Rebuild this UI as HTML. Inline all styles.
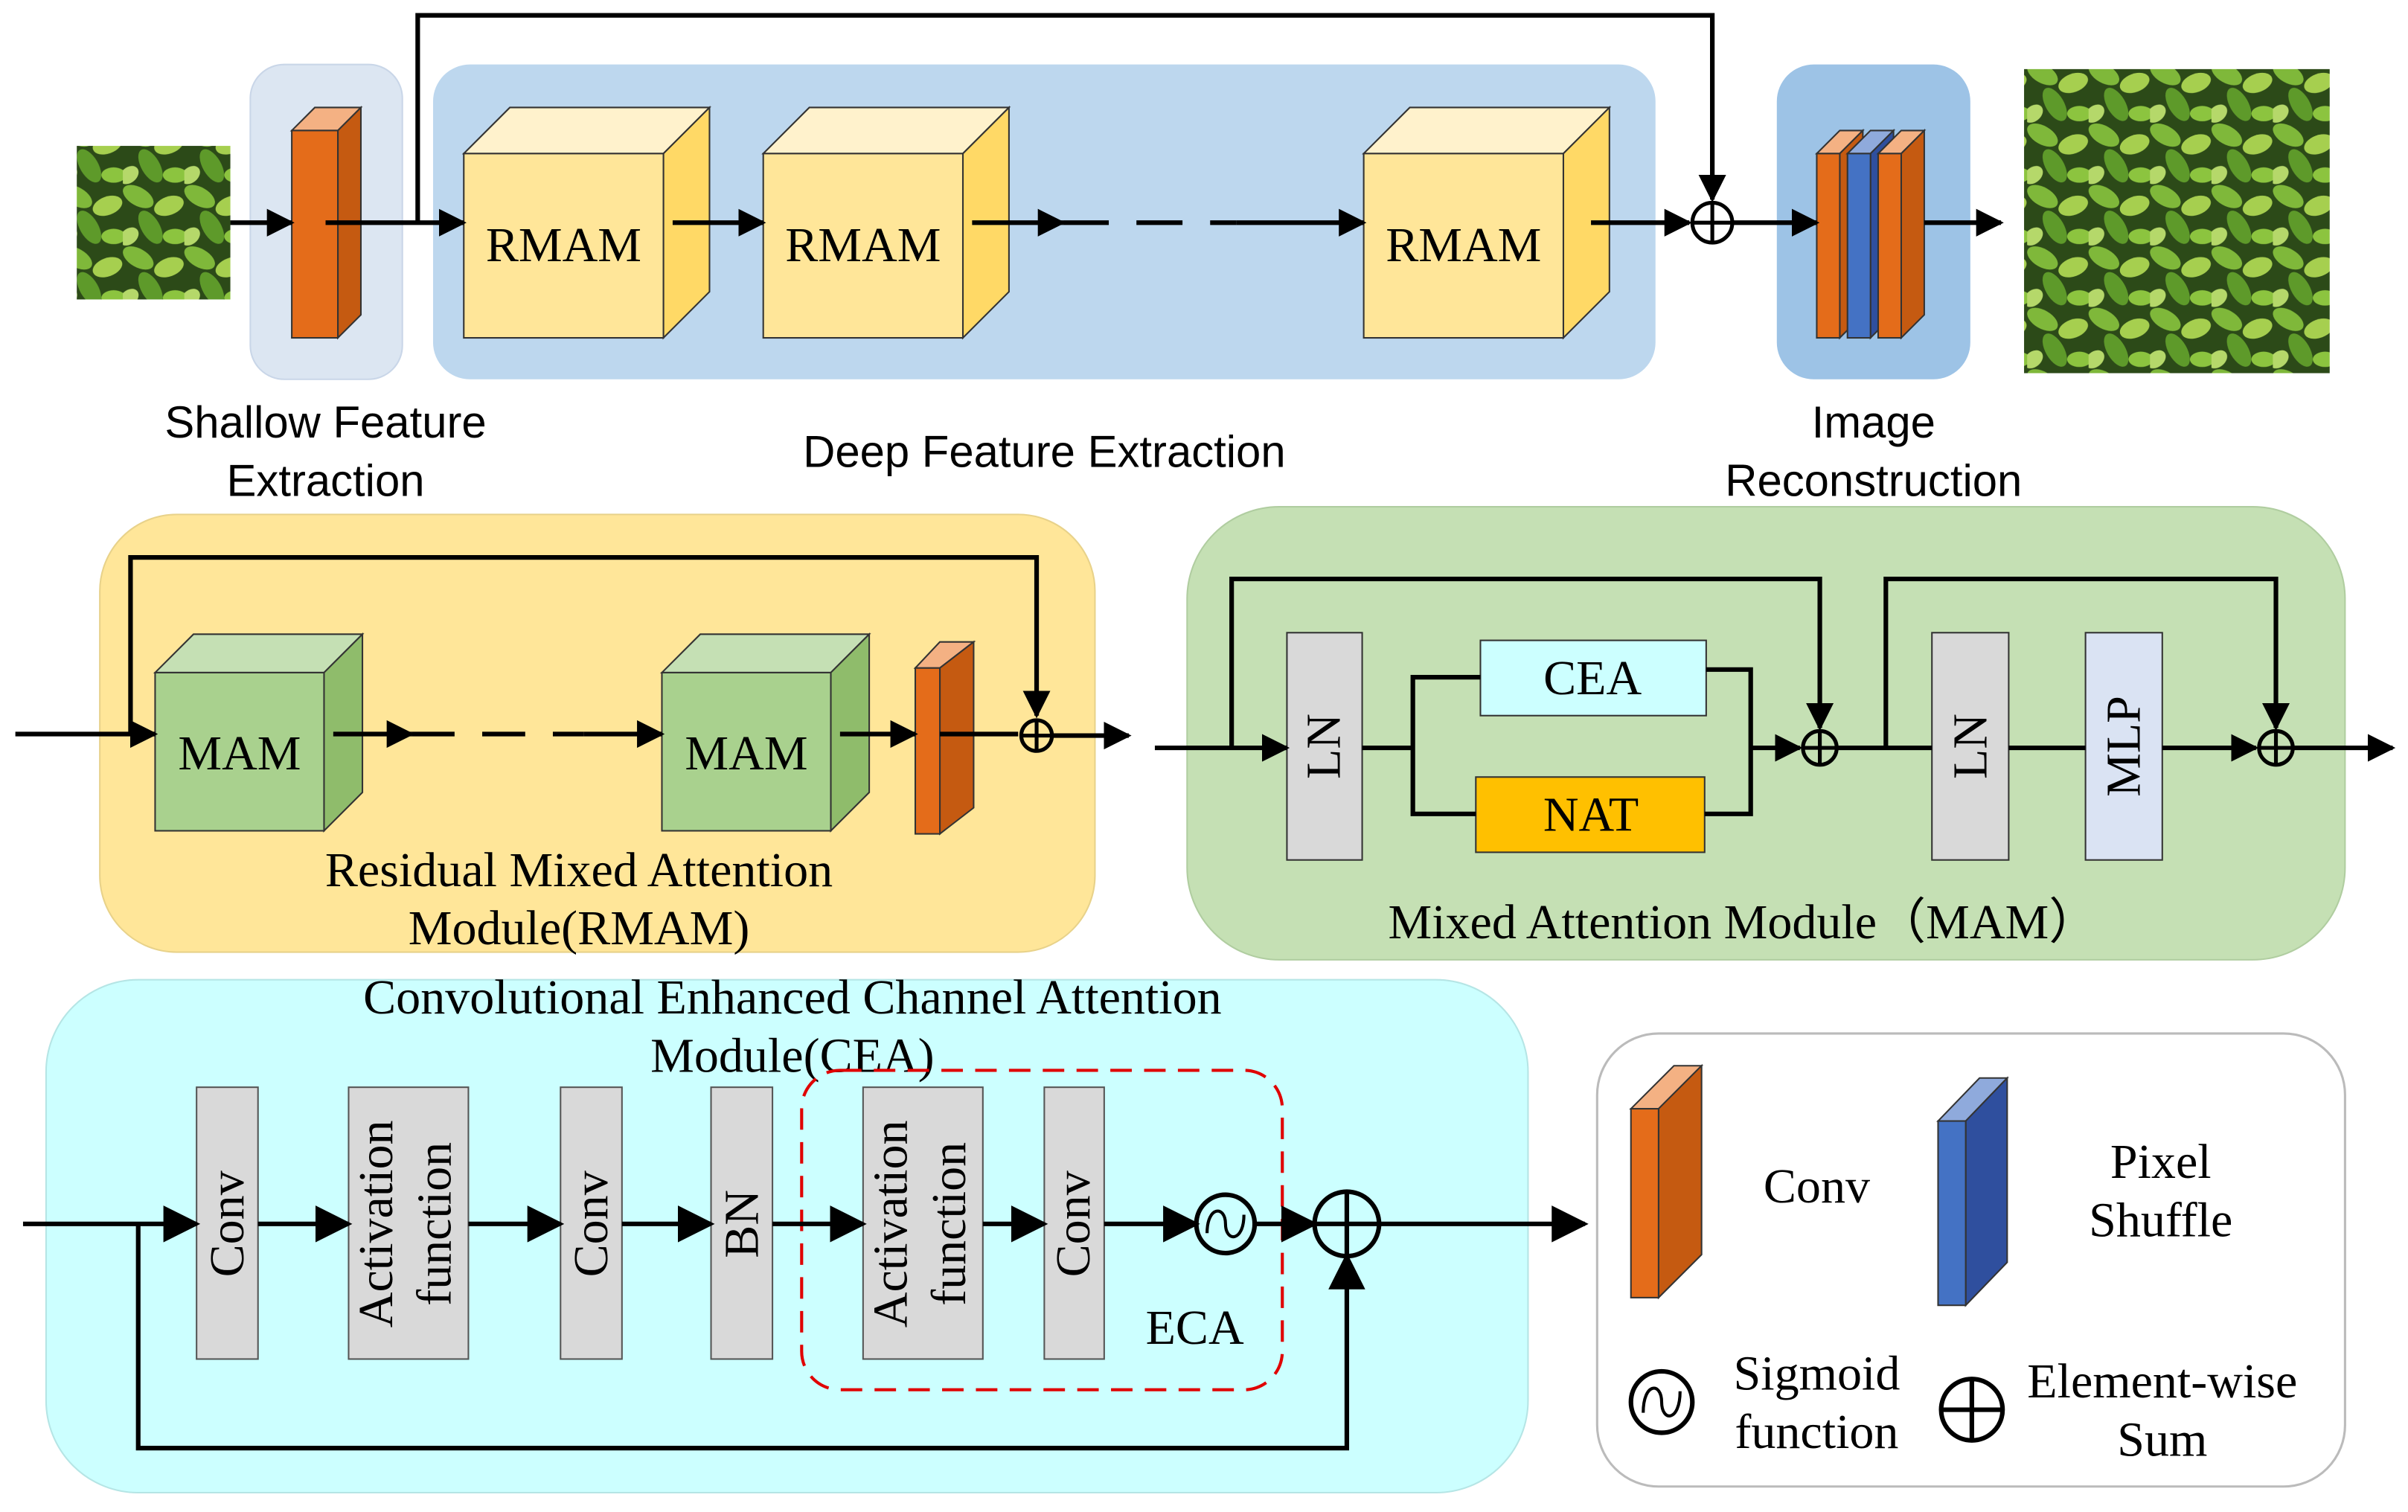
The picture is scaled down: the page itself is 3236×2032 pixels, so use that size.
<!DOCTYPE html>
<html><head><meta charset="utf-8"><style>
html,body{margin:0;padding:0;background:#fff}
svg{display:block}
.s{font-family:"Liberation Sans",sans-serif;font-size:29px;fill:#000}
.r{font-family:"Liberation Serif",serif;font-size:32px;fill:#000}
</style></head><body>
<svg width="3236" height="2032" viewBox="0 0 1568 984.6" preserveAspectRatio="none" xmlns="http://www.w3.org/2000/svg">
<defs>
<marker id="a" viewBox="0 0 10 10" refX="9" refY="5" markerWidth="6" markerHeight="6" orient="auto"><path d="M0,0L10,5L0,10z" fill="#000"/></marker>
<marker id="b" viewBox="0 0 10 10" refX="9" refY="5" markerWidth="8" markerHeight="8" orient="auto"><path d="M0,0L10,5L0,10z" fill="#000"/></marker>
<pattern id="leaf" width="40" height="40" patternUnits="userSpaceOnUse">
<rect width="40" height="40" fill="#2c4a18"/>
<ellipse cx="10" cy="8" rx="11" ry="6" fill="#7fb83a" transform="rotate(30 10 8)"/>
<ellipse cx="30" cy="14" rx="10" ry="6" fill="#a6cf4f" transform="rotate(-20 30 14)"/>
<ellipse cx="18" cy="28" rx="12" ry="6" fill="#5e9a2a" transform="rotate(60 18 28)"/>
<ellipse cx="34" cy="34" rx="8" ry="5" fill="#8cc43f"/>
<ellipse cx="4" cy="34" rx="7" ry="5" fill="#b5d86a" transform="rotate(-40 4 34)"/>
</pattern>
</defs>
<rect x="50" y="95" width="100" height="100" fill="url(#leaf)"/>
<rect x="1318" y="45" width="199" height="198" fill="url(#leaf)"/>
<rect x="163" y="42" width="99" height="205" rx="22" fill="#dce6f2" stroke="#c9d6e8"/>
<rect x="282" y="42" width="796" height="205" rx="24" fill="#bdd7ee"/>
<rect x="1157" y="42" width="126" height="205" rx="24" fill="#9dc3e6"/>
<g stroke="#333" stroke-width="1">
<polygon points="190,85 205,70 235,70 220,85" fill="#f4b183"/>
<polygon points="220,85 235,70 235,205 220,220" fill="#c55a11"/>
<rect x="190" y="85" width="30" height="135" fill="#e46c1a"/>
<g id="rm">
<polygon points="302,100 332,70 462,70 432,100" fill="#fff2cc"/>
<polygon points="432,100 462,70 462,190 432,220" fill="#ffd966"/>
<rect x="302" y="100" width="130" height="120" fill="#ffe699"/>
</g>
<use href="#rm" x="195"/>
<use href="#rm" x="586"/>
<polygon points="1183,100 1198,85 1213,85 1198,100" fill="#f4b183"/>
<polygon points="1198,100 1213,85 1213,205 1198,220" fill="#c55a11"/>
<rect x="1183" y="100" width="15" height="120" fill="#e46c1a"/>
<polygon points="1203,100 1218,85 1233,85 1218,100" fill="#8faadc"/>
<polygon points="1218,100 1233,85 1233,205 1218,220" fill="#2f4f9e"/>
<rect x="1203" y="100" width="15" height="120" fill="#4472c4"/>
<polygon points="1223,100 1238,85 1253,85 1238,100" fill="#f4b183"/>
<polygon points="1238,100 1253,85 1253,205 1238,220" fill="#c55a11"/>
<rect x="1223" y="100" width="15" height="120" fill="#e46c1a"/>
</g>
<text class="r" x="367" y="170" text-anchor="middle">RMAM</text>
<text class="r" x="562" y="170" text-anchor="middle">RMAM</text>
<text class="r" x="953" y="170" text-anchor="middle">RMAM</text>
<g stroke="#000" stroke-width="3" fill="none">
<line x1="150" y1="145" x2="190" y2="145" marker-end="url(#a)"/>
<line x1="212" y1="145" x2="302" y2="145" marker-end="url(#a)"/>
<line x1="438" y1="145" x2="497" y2="145" marker-end="url(#a)"/>
<line x1="633" y1="145" x2="692" y2="145" marker-end="url(#a)"/>
<line x1="692" y1="145" x2="805" y2="145" stroke-dasharray="30,18"/>
<line x1="805" y1="145" x2="888" y2="145" marker-end="url(#a)"/>
<line x1="1036" y1="145" x2="1100" y2="145" marker-end="url(#a)"/>
<polyline points="272,145 272,10 1115,10 1115,130" marker-end="url(#a)"/>
<circle cx="1115" cy="145" r="13" stroke-width="2.5"/>
<line x1="1102" y1="145" x2="1128" y2="145" stroke-width="2.5"/>
<line x1="1115" y1="132" x2="1115" y2="158" stroke-width="2.5"/>
<line x1="1128" y1="145" x2="1183" y2="145" marker-end="url(#a)"/>
<line x1="1253" y1="145" x2="1303" y2="145" marker-end="url(#a)"/>
</g>
<text class="s" x="212" y="285" text-anchor="middle">Shallow Feature</text>
<text class="s" x="212" y="323" text-anchor="middle">Extraction</text>
<text class="s" x="680" y="304" text-anchor="middle">Deep Feature Extraction</text>
<text class="s" x="1220" y="285" text-anchor="middle">Image</text>
<text class="s" x="1220" y="323" text-anchor="middle">Reconstruction</text>

<rect x="65" y="335" width="648" height="285" rx="50" fill="#ffe699" stroke="#e8d28a"/>
<g stroke="#333" stroke-width="1">
<g id="mm">
<polygon points="101,438 126,413 236,413 211,438" fill="#c5e0b4"/>
<polygon points="211,438 236,413 236,516 211,541" fill="#8fbc6b"/>
<rect x="101" y="438" width="110" height="103" fill="#a9d18e"/>
</g>
<use href="#mm" x="330"/>
<polygon points="596,435 612,418 634,418 612,435" fill="#f4b183"/>
<polygon points="612,435 634,418 634,526 612,543" fill="#c55a11"/>
<rect x="596" y="435" width="16" height="108" fill="#e46c1a"/>
</g>
<text class="r" x="156" y="501" text-anchor="middle">MAM</text>
<text class="r" x="486" y="501" text-anchor="middle">MAM</text>
<g stroke="#000" stroke-width="3" fill="none">
<line x1="10" y1="478" x2="101" y2="478" marker-end="url(#a)"/>
<polyline points="85,478 85,363 675,363 675,466" marker-end="url(#a)"/>
<line x1="217" y1="478" x2="268" y2="478" marker-end="url(#a)"/>
<line x1="268" y1="478" x2="380" y2="478" stroke-dasharray="28,18"/>
<line x1="380" y1="478" x2="431" y2="478" marker-end="url(#a)"/>
<line x1="547" y1="478" x2="596" y2="478" marker-end="url(#a)"/>
<line x1="612" y1="478" x2="663" y2="478"/>
<circle cx="675" cy="479" r="10" stroke-width="2.5"/>
<line x1="665" y1="479" x2="685" y2="479" stroke-width="2.5"/>
<line x1="675" y1="469" x2="675" y2="489" stroke-width="2.5"/>
<line x1="685" y1="479" x2="735" y2="479" marker-end="url(#a)"/>
</g>
<text class="r" x="377" y="577" text-anchor="middle">Residual Mixed Attention</text>
<text class="r" x="377" y="615" text-anchor="middle">Module(RMAM)</text>

<rect x="773" y="330" width="754" height="295" rx="60" fill="#c5e0b4" stroke="#b0cda0"/>
<g stroke="#333" stroke-width="1">
<rect x="838" y="412" width="49" height="148" fill="#d9d9d9"/>
<rect x="964" y="417" width="147" height="49" fill="#ccffff"/>
<rect x="961" y="506" width="149" height="49" fill="#ffc000"/>
<rect x="1258" y="412" width="50" height="148" fill="#d9d9d9"/>
<rect x="1358" y="412" width="50" height="148" fill="#dae3f3"/>
</g>
<text class="r" transform="translate(862,486) rotate(-90)" text-anchor="middle" dominant-baseline="central">LN</text>
<text class="r" transform="translate(1283,486) rotate(-90)" text-anchor="middle" dominant-baseline="central">LN</text>
<text class="r" transform="translate(1383,486) rotate(-90)" text-anchor="middle" dominant-baseline="central">MLP</text>
<text class="r" x="1037" y="452" text-anchor="middle">CEA</text>
<text class="r" x="1036" y="541" text-anchor="middle">NAT</text>
<g stroke="#000" stroke-width="3" fill="none">
<line x1="752" y1="487" x2="838" y2="487" marker-end="url(#a)"/>
<polyline points="802,487 802,377 1185,377 1185,474" marker-end="url(#a)"/>
<line x1="887" y1="487" x2="920" y2="487"/>
<polyline points="964,441 920,441 920,530 961,530"/>
<polyline points="1111,436 1140,436 1140,530 1110,530"/>
<line x1="1140" y1="487" x2="1172" y2="487" marker-end="url(#a)"/>
<circle cx="1185" cy="487" r="11" stroke-width="2.5"/>
<line x1="1174" y1="487" x2="1196" y2="487" stroke-width="2.5"/>
<line x1="1185" y1="476" x2="1185" y2="498" stroke-width="2.5"/>
<line x1="1196" y1="487" x2="1258" y2="487"/>
<polyline points="1228,487 1228,377 1482,377 1482,474" marker-end="url(#a)"/>
<line x1="1308" y1="487" x2="1358" y2="487"/>
<line x1="1408" y1="487" x2="1469" y2="487" marker-end="url(#a)"/>
<circle cx="1482" cy="487" r="11" stroke-width="2.5"/>
<line x1="1471" y1="487" x2="1493" y2="487" stroke-width="2.5"/>
<line x1="1482" y1="476" x2="1482" y2="498" stroke-width="2.5"/>
<line x1="1493" y1="487" x2="1558" y2="487" marker-end="url(#a)"/>
</g>
<text class="r" x="1135" y="611" text-anchor="middle">Mixed Attention Module（MAM）</text>

<rect x="30" y="638" width="965" height="334" rx="60" fill="#ccffff" stroke="#b5e5e5"/>
<text class="r" x="516" y="660" text-anchor="middle">Convolutional Enhanced Channel Attention</text>
<text class="r" x="516" y="698" text-anchor="middle">Module(CEA)</text>
<g stroke="#555" stroke-width="1" fill="#d9d9d9">
<rect x="128" y="708" width="40" height="177"/>
<rect x="227" y="708" width="78" height="177"/>
<rect x="365" y="708" width="40" height="177"/>
<rect x="463" y="708" width="40" height="177"/>
<rect x="562" y="708" width="78" height="177"/>
<rect x="680" y="708" width="39" height="177"/>
</g>
<text class="r" transform="translate(148,797) rotate(-90)" text-anchor="middle" dominant-baseline="central">Conv</text>
<text class="r" transform="translate(245,797) rotate(-90)" text-anchor="middle" dominant-baseline="central">Activation</text>
<text class="r" transform="translate(283,797) rotate(-90)" text-anchor="middle" dominant-baseline="central">function</text>
<text class="r" transform="translate(385,797) rotate(-90)" text-anchor="middle" dominant-baseline="central">Conv</text>
<text class="r" transform="translate(483,797) rotate(-90)" text-anchor="middle" dominant-baseline="central">BN</text>
<text class="r" transform="translate(580,797) rotate(-90)" text-anchor="middle" dominant-baseline="central">Activation</text>
<text class="r" transform="translate(618,797) rotate(-90)" text-anchor="middle" dominant-baseline="central">function</text>
<text class="r" transform="translate(699,797) rotate(-90)" text-anchor="middle" dominant-baseline="central">Conv</text>
<rect x="522" y="697" width="313" height="208" rx="25" fill="none" stroke="#e00000" stroke-width="2" stroke-dasharray="14,8"/>
<text class="r" x="778" y="875" text-anchor="middle">ECA</text>
<g stroke="#000" stroke-width="3" fill="none">
<line x1="15" y1="797" x2="128" y2="797" marker-end="url(#b)"/>
<line x1="168" y1="797" x2="227" y2="797" marker-end="url(#b)"/>
<line x1="305" y1="797" x2="365" y2="797" marker-end="url(#b)"/>
<line x1="405" y1="797" x2="463" y2="797" marker-end="url(#b)"/>
<line x1="503" y1="797" x2="562" y2="797" marker-end="url(#b)"/>
<line x1="640" y1="797" x2="680" y2="797" marker-end="url(#b)"/>
<line x1="719" y1="797" x2="779" y2="797" marker-end="url(#b)"/>
<circle cx="798" cy="797" r="19"/>
<path d="M786,803 C786,785 798,785 798,797 C798,809 810,809 810,791" stroke-width="2"/>
<line x1="817" y1="797" x2="856" y2="797" marker-end="url(#b)"/>
<circle cx="877" cy="797" r="21"/>
<line x1="856" y1="797" x2="898" y2="797"/>
<line x1="877" y1="776" x2="877" y2="818"/>
<polyline points="90,797 90,943 877,943 877,818" marker-end="url(#b)"/>
<line x1="898" y1="797" x2="1032" y2="797" marker-end="url(#b)"/>
</g>

<rect x="1040" y="673" width="487" height="295" rx="40" fill="#fff" stroke="#bbb" stroke-width="1.5"/>
<g stroke="#333" stroke-width="1">
<polygon points="1062,722 1090,694 1108,694 1080,722" fill="#f4b183"/>
<polygon points="1080,722 1108,694 1108,817 1080,845" fill="#c55a11"/>
<rect x="1062" y="722" width="18" height="123" fill="#e46c1a"/>
<polygon points="1262,730 1289,702 1307,702 1280,730" fill="#8faadc"/>
<polygon points="1280,730 1307,702 1307,822 1280,850" fill="#2f4f9e"/>
<rect x="1262" y="730" width="18" height="120" fill="#4472c4"/>
</g>
<text class="r" x="1183" y="783" text-anchor="middle">Conv</text>
<text class="r" x="1407" y="767" text-anchor="middle">Pixel</text>
<text class="r" x="1407" y="805" text-anchor="middle">Shuffle</text>
<g stroke="#000" stroke-width="3" fill="none">
<circle cx="1082" cy="913" r="20"/>
<path d="M1070,920 C1070,900 1082,900 1082,913 C1082,926 1094,926 1094,906" stroke-width="2"/>
<circle cx="1284" cy="918" r="20"/>
<line x1="1264" y1="918" x2="1304" y2="918"/>
<line x1="1284" y1="898" x2="1284" y2="938"/>
</g>
<text class="r" x="1183" y="905" text-anchor="middle">Sigmoid</text>
<text class="r" x="1183" y="943" text-anchor="middle">function</text>
<text class="r" x="1408" y="910" text-anchor="middle">Element-wise</text>
<text class="r" x="1408" y="948" text-anchor="middle">Sum</text>
</svg>
</body></html>
